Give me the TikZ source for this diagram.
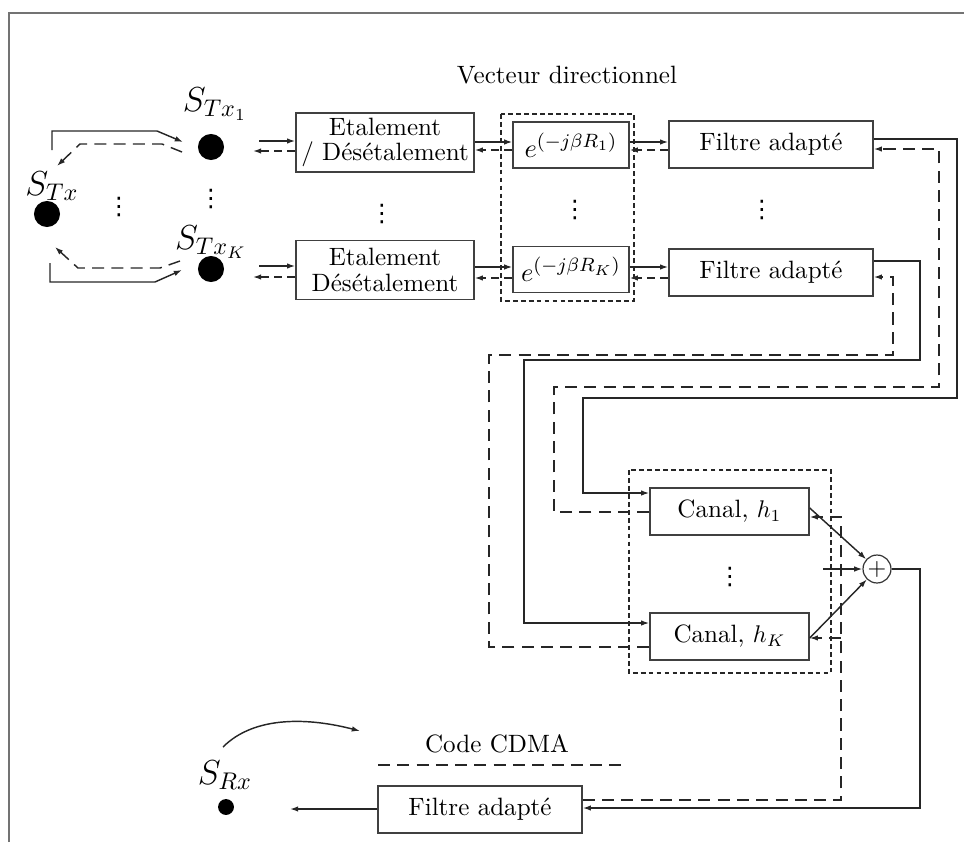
\documentclass[tikz,border=0pt]{standalone}
\usepackage{fontspec}
\newfontfamily\dotsfont{DejaVu Sans}
\usetikzlibrary{arrows.meta,calc}
\begin{document}
\begin{tikzpicture}[x=0.415pt,y=-0.415pt,
  ln/.style={line width=0.6pt, draw=black!85},
  arr/.style={ln, -{Latex[length=3.4pt,width=2.3pt]}},
  ldash/.style={dash pattern=on 5pt off 3pt},
  sdash/.style={dash pattern=on 3.5pt off 2pt},
  dotbox/.style={line width=0.5pt, draw=black!85, dash pattern=on 2pt off 1.3pt},
  blk/.style={draw=black!75, line width=0.6pt, inner sep=0pt, align=center, minimum width=#1},
  etal/.style={blk=73.9pt, minimum height=24.5pt, font=\fontsize{10.4}{10.6}\selectfont},
  ebox/.style={blk=48.1pt, minimum height=19.1pt, font=\fontsize{11}{13}\selectfont},
  fabox/.style={blk=84.7pt, minimum height=19.5pt, font=\fontsize{10.4}{12}\selectfont},
  canbox/.style={blk=66pt, minimum height=19.5pt, font=\fontsize{10.4}{12}\selectfont},
  src/.style={circle, fill=black, inner sep=0pt, minimum size=#1},
  lbl/.style={inner sep=0pt},
  slbl/.style={inner sep=0pt, font=\Large},
  vd/.style={inner sep=0pt, font=\dotsfont\fontsize{10}{12}\selectfont}
]
\useasboundingbox (0,0) rectangle (964,842);
% frame
\draw[black!55, line width=0.9pt] (9,842) -- (9,13) -- (964,13);

% sources
\node[src=10.8pt] (Stx) at (47,214) {};
\node[src=10.8pt] (Stx1) at (211,147) {};
\node[src=10.8pt] (StxK) at (211,269) {};
\node[slbl] (LStx) at (52,186) {$S_{Tx}$};
\node[slbl] (LStx1) at (215,104) {$S_{Tx_1}$};
\node[slbl] (LStxK) at (211,242) {$S_{Tx_K}$};
\node[vd] (d1) at (119,207) {⋮};
\node[vd] (d2) at (211,199) {⋮};

% switches
\coordinate (a1) at (52,150); \coordinate (a2) at (52,131); \coordinate (a3) at (157,131); \coordinate (a4) at (183,142);
\coordinate (b1) at (182,152); \coordinate (b2) at (162,144); \coordinate (b3) at (80,144); \coordinate (b4) at (57,166);
\coordinate (c1) at (180,261); \coordinate (c2) at (160,268); \coordinate (c3) at (78,268); \coordinate (c4) at (55,247);
\coordinate (e1a) at (50,263); \coordinate (e2a) at (50,282); \coordinate (e3a) at (155,282); \coordinate (e4a) at (182,270);
\draw[arr] (a1) -- (a2) -- (a3) -- (a4);
\draw[arr, ldash] (b1) -- (b2) -- (b3) -- (b4);
\draw[arr, ldash] (c1) -- (c2) -- (c3) -- (c4);
\draw[arr] (e1a) -- (e2a) -- (e3a) -- (e4a);

% spreading boxes
\node[etal] (Etal1) at (385,142.5) {Etalement\\/ Désétalement};
\node[etal] (EtalK) at (385,270) {Etalement\\Désétalement};
\node[vd] (d3) at (382,214) {⋮};

% steering vector
\node[lbl, font=\fontsize{10.4}{12}\selectfont] (VD) at (567,75) {Vecteur directionnel};
\node[ebox] (e1) at (571,145) {$e^{\mbox{\footnotesize$(-j\beta R_1)$}}$};
\node[ebox] (eK) at (571,269.5) {$e^{\mbox{\footnotesize$(-j\beta R_K)$}}$};
\node[vd] (d4) at (575,210) {⋮};
\draw[dotbox] (501,114) rectangle (634,301);

% matched filters
\node[fabox] (FA1) at (771,144.5) {Filtre adapté};
\node[fabox] (FAK) at (771,272.5) {Filtre adapté};
\node[vd] (d5) at (762,210) {⋮};

% row coordinates
\coordinate (ys1) at (0,142); \coordinate (yd1) at (0,150);
\coordinate (ysK) at (0,267); \coordinate (ydK) at (0,278);
\coordinate (l1s) at (259,141); \coordinate (l1d) at (253,151);
\coordinate (lKs) at (259,266); \coordinate (lKd) at (253,277);

\draw[arr] (l1s) -- (Etal1.west |- l1s);
\draw[arr, sdash] (Etal1.west |- l1d) -- (l1d);
\draw[arr] (lKs) -- (EtalK.west |- lKs);
\draw[arr, sdash] (EtalK.west |- lKd) -- (lKd);

\draw[arr] (Etal1.east |- ys1) -- (e1.west |- ys1);
\draw[arr, sdash] (e1.west |- yd1) -- (Etal1.east |- yd1);
\draw[arr] (e1.east |- ys1) -- (FA1.west |- ys1);
\draw[arr, sdash] (FA1.west |- yd1) -- (e1.east |- yd1);

\draw[arr] (EtalK.east |- ysK) -- (eK.west |- ysK);
\draw[arr, sdash] (eK.west |- ydK) -- (EtalK.east |- ydK);
\draw[arr] (eK.east |- ysK) -- (FAK.west |- ysK);
\draw[arr, sdash] (FAK.west |- ydK) -- (eK.east |- ydK);

% channels
\node[canbox] (C1) at (729.5,511.5) {Canal, $h_1$};
\node[canbox] (CK) at (729.5,636.5) {Canal, $h_K$};
\node[vd] (d6) at (730,577) {⋮};
\draw[dotbox] (629,470) rectangle (831,673);
\node[circle, draw=black!80, line width=0.5pt, inner sep=0pt, minimum size=11.6pt] (plus) at (877,569) {$+$};

% links FA -> channels
\coordinate (fs1) at (0,139); \coordinate (fd1) at (0,149);
\coordinate (fsK) at (0,261); \coordinate (fdK) at (0,277);
\coordinate (cs1) at (0,493); \coordinate (cd1) at (0,512);
\coordinate (csK) at (0,623); \coordinate (cdK) at (0,647);

\draw[arr] (FA1.east |- fs1) -- (957,139) -- (957,398) -- (583,398) -- (583,493) -- (C1.west |- cs1);
\draw[arr, ldash] (C1.west |- cd1) -- (554,512) -- (554,387) -- (939,387) -- (939,149) -- (FA1.east |- fd1);
\draw[arr] (FAK.east |- fsK) -- (920,261) -- (920,360) -- (524,360) -- (524,623) -- (CK.west |- csK);
\draw[arr, ldash] (CK.west |- cdK) -- (489,647) -- (489,355) -- (893,355) -- (893,277) -- (FAK.east |- fdK);

% channels -> sum
\coordinate (co1) at (0,508); \coordinate (ci1) at (0,517);
\coordinate (coK) at (0,638);
\coordinate (nz) at (823,569);
\draw[arr] (C1.east |- co1) -- (plus);
\draw[arr] (CK.east |- coK) -- (plus);
\draw[arr] (nz) -- (plus.west);

% receiver
\node[fabox] (FAb) at (480,809.5) {Filtre adapté};
\node[src=6.6pt] (Srx) at (226,807) {};
\node[slbl] (LSrx) at (225,775) {$S_{Rx}$};
\coordinate (rxo) at (290,809);
\draw[arr] (FAb.west |- rxo) -- (rxo);
\coordinate (fbs) at (0,808); \coordinate (fbd) at (0,800);
\draw[arr] (plus.east) -- (920,569) -- (920,808) -- (FAb.east |- fbs);
\draw[arr, ldash] (FAb.east |- fbd) -- (841,800) -- (841,517) -- (C1.east |- ci1);
\draw[arr, ldash] (841,638) -- (CK.east |- coK);

% code CDMA
\node[lbl, font=\fontsize{10.4}{12}\selectfont] (CDMA) at (497,744) {Code CDMA};
\coordinate (cc1) at (378,765); \coordinate (cc2) at (627,765);
\draw[ln, ldash] (cc1) -- (cc2);
\coordinate (cv1) at (223,747); \coordinate (cv2) at (360,731);
\draw[arr] (cv1) .. controls (255,715) and (310,718) .. (cv2);
\end{tikzpicture}
\end{document}
